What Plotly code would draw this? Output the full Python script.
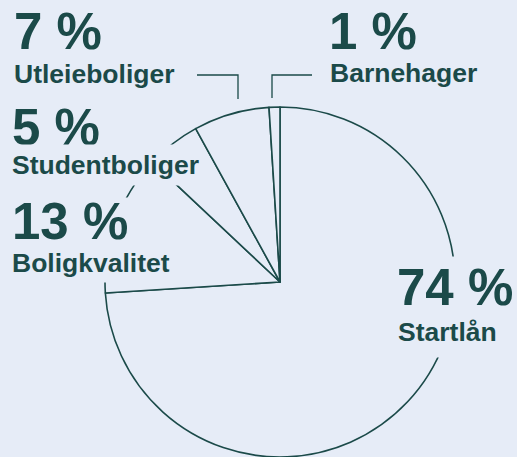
import plotly.graph_objects as go

# Data (clockwise from 12 o'clock)
categories = ["Startlån", "Boligkvalitet", "Studentboliger", "Utleieboliger", "Barnehager"]
values = [74, 13, 5, 7, 1]
pct_labels = ["74 %", "13 %", "5 %", "7 %", "1 %"]

W, H = 517, 457
BG = "#e6ecf7"
INK = "#1b4a49"
FONT = "Liberation Sans, Arial, Helvetica, sans-serif"
BIG, SMALL = 51, 26.5

fig = go.Figure(go.Pie(
    labels=categories,
    values=values,
    sort=False,
    direction="clockwise",
    rotation=0,
    textinfo="none",
    hoverinfo="skip",
    marker=dict(colors=[BG] * len(values), line=dict(color=INK, width=1.6)),
    domain=dict(x=[105 / W, 455 / W], y=[0, 350 / H]),
    showlegend=False,
))


def px_x(x):
    return x / W


def px_y(y):
    return 1 - y / H


annotations = []


def add_label(text, size, left, baseline, box_top=None, box_bottom=None, width=None, mask=False):
    center = baseline - 0.3465 * size
    kw = {}
    if box_top is not None and box_bottom is None:
        box_bottom = 2 * center - box_top
    if box_bottom is not None and box_top is None:
        box_top = 2 * center - box_bottom
    if box_top is not None:
        kw["height"] = box_bottom - box_top
        center = (box_top + box_bottom) / 2
    if width is not None:
        kw["width"] = width
    annotations.append(dict(
        text=text, xref="paper", yref="paper",
        x=px_x(left), y=px_y(center), xanchor="left", yanchor="middle",
        align="left", valign="middle", showarrow=False,
        font=dict(family=FONT, size=size, color=INK, weight="bold"),
        bgcolor=BG if mask else "rgba(0,0,0,0)", borderpad=0, **kw,
    ))


i_start, i_bolig, i_stud, i_utl, i_barn = range(5)
add_label(pct_labels[i_utl], BIG, 13, 49)
add_label(categories[i_utl], SMALL, 13, 83)
add_label(pct_labels[i_barn], BIG, 328, 49)
add_label(categories[i_barn], SMALL, 329, 82)
add_label(pct_labels[i_stud], BIG, 11, 145, box_bottom=147)
add_label(categories[i_stud], SMALL, 11, 174, box_top=145, width=190, mask=True)
add_label(pct_labels[i_bolig], BIG, 11, 239, box_top=198, mask=True)
add_label(categories[i_bolig], SMALL, 11, 272, box_bottom=282, mask=True)
add_label(pct_labels[i_start], BIG, 396, 305, box_top=257, mask=True)
add_label(categories[i_start], SMALL, 397, 341, box_bottom=357, mask=True)

# leader lines for the two small slices
shapes = [
    dict(type="path", xref="paper", yref="paper",
         path=f"M {px_x(197)} {px_y(75)} L {px_x(238)} {px_y(75)} L {px_x(238)} {px_y(99)}",
         line=dict(color=INK, width=1.3)),
    dict(type="path", xref="paper", yref="paper",
         path=f"M {px_x(272)} {px_y(98)} L {px_x(272)} {px_y(75)} L {px_x(312)} {px_y(75)}",
         line=dict(color=INK, width=1.3)),
]

fig.update_layout(
    width=W, height=H,
    margin=dict(l=0, r=0, t=0, b=0),
    paper_bgcolor=BG, plot_bgcolor=BG,
    annotations=annotations, shapes=shapes,
)

fig.write_html(
    "out.html",
    config={"displayModeBar": False},
    post_script="document.body.style.margin='0';document.body.style.background='%s';" % BG,
)
